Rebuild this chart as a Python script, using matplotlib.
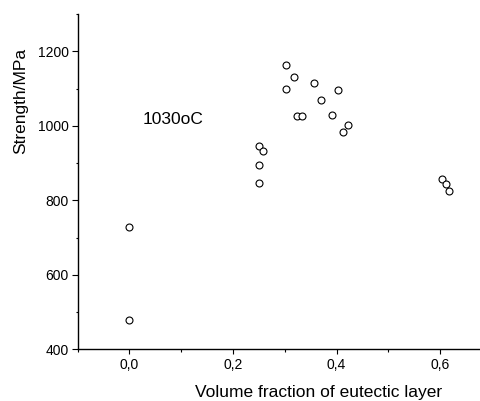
import matplotlib.pyplot as plt
from matplotlib.ticker import MultipleLocator, FuncFormatter

plt.rcParams['font.family'] = ['Liberation Sans', 'DejaVu Sans']

# volume fraction of eutectic layer vs strength (1030 oC)
fraction = [0.0, 0.0, 0.25, 0.257, 0.25, 0.25,
            0.302, 0.318, 0.302, 0.323, 0.333,
            0.357, 0.370, 0.392, 0.403, 0.412, 0.423,
            0.603, 0.611, 0.617]
strength = [728, 478, 945, 932, 895, 846,
            1163, 1132, 1099, 1027, 1027,
            1115, 1070, 1028, 1095, 984, 1003,
            858, 844, 825]

fig = plt.figure(figsize=(4.81, 4.01), dpi=100)
ax = fig.add_axes([0.1615, 0.129, 0.8385, 0.836])

ax.plot(fraction, strength, 'o', mfc='white', mec='black', ms=5, mew=0.8)

ax.set_xlim(-0.1, 0.679)
ax.set_ylim(400, 1300)
ax.xaxis.set_major_locator(MultipleLocator(0.2))
ax.xaxis.set_minor_locator(MultipleLocator(0.1))
ax.yaxis.set_major_locator(MultipleLocator(200))
ax.yaxis.set_minor_locator(MultipleLocator(100))
ax.xaxis.set_major_formatter(FuncFormatter(lambda v, p: f'{v:.1f}'.replace('.', ',')))

for s in ['top', 'right']:
    ax.spines[s].set_visible(False)
for s in ['left', 'bottom']:
    ax.spines[s].set_linewidth(1.0)

ax.tick_params(axis='y', which='major', length=4.3, width=0.8, labelsize=10, pad=2)
ax.tick_params(axis='x', which='major', length=3.6, width=0.8, labelsize=10, pad=3)
ax.tick_params(which='minor', length=1.8, width=0.8)

ax.set_xlabel('Volume fraction of eutectic layer', fontsize=12.5, va='baseline')
ax.set_ylabel('Strength/MPa', fontsize=12.5, va='baseline')
ax.xaxis.set_label_coords(0.597, -0.142)
ax.yaxis.set_label_coords(-0.131, 0.742)

ax.text(0.026, 1016, '1030oC', fontsize=12.5, va='center', ha='left')

fig.savefig('out.png', dpi=100)
